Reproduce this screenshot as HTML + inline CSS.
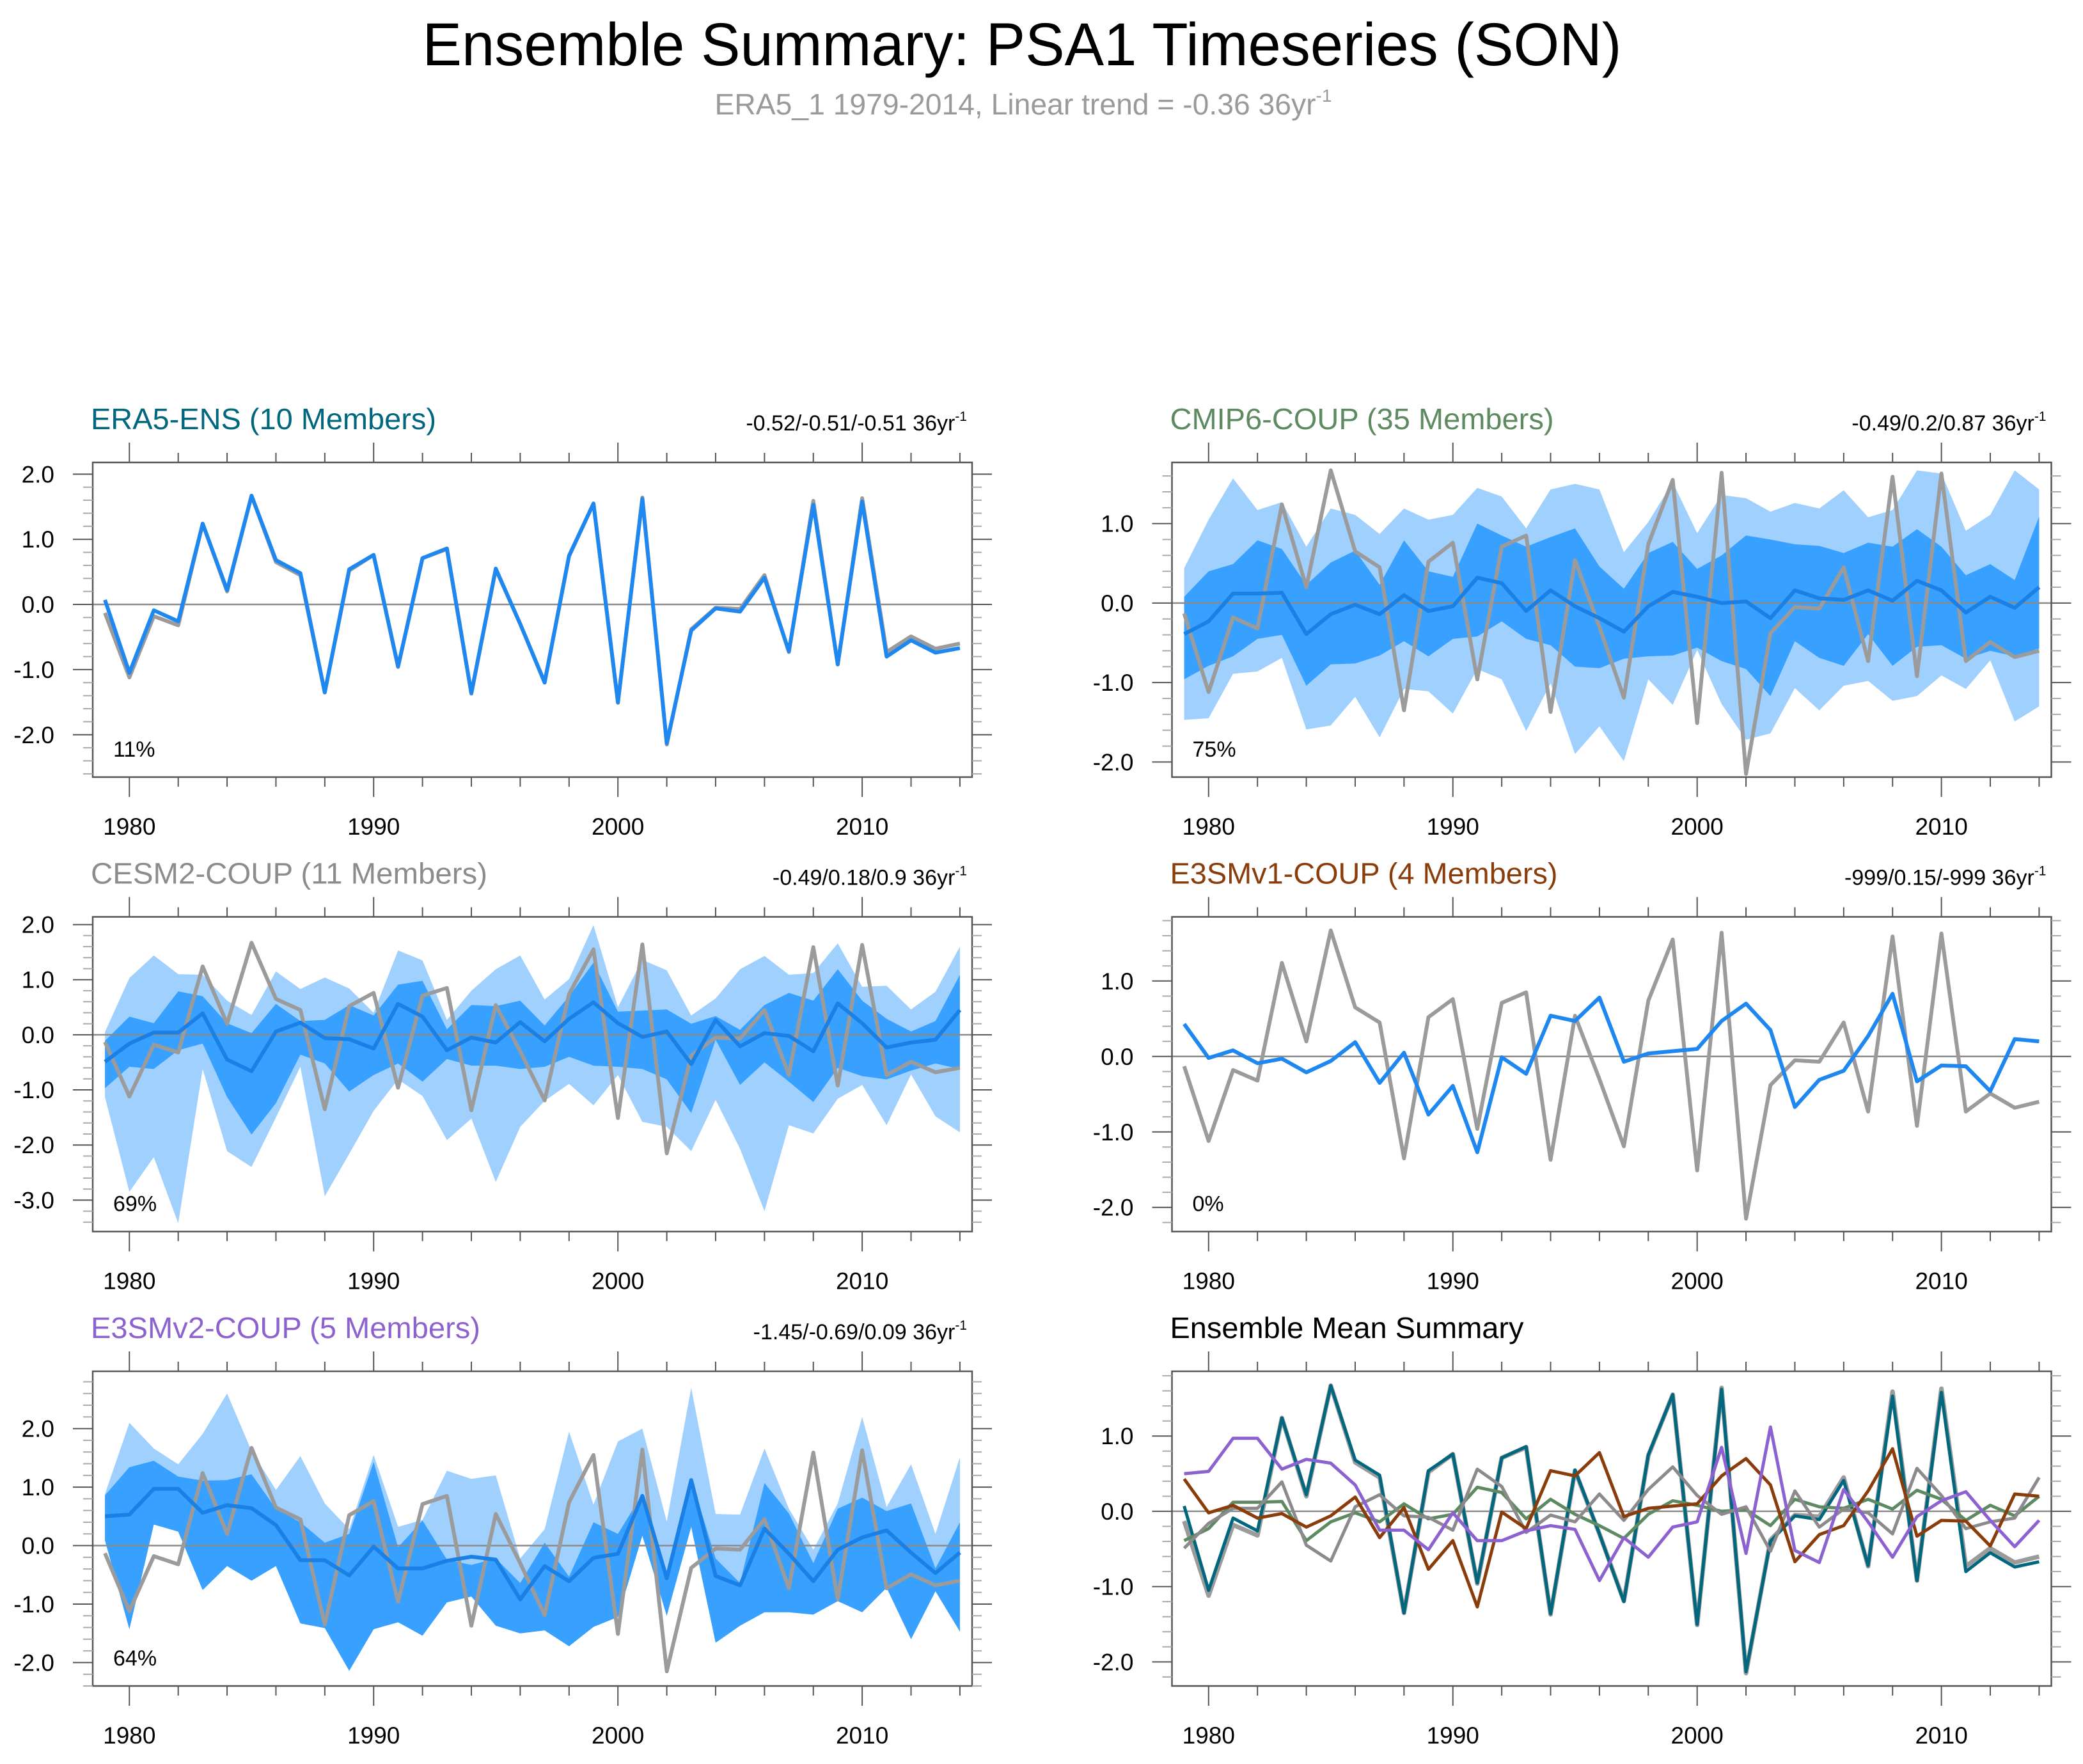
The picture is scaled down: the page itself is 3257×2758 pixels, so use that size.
<!DOCTYPE html>
<html><head><meta charset="utf-8"><title>Ensemble Summary: PSA1 Timeseries (SON)</title>
<style>html,body{margin:0;padding:0;background:#fff}svg{display:block;font-family:"Liberation Sans",sans-serif}</style>
</head><body>
<svg id="chart" xmlns="http://www.w3.org/2000/svg" width="3257" height="2758" viewBox="0 0 3257 2758">
<rect x="0" y="0" width="3257" height="2758" fill="#fff"/>
<text x="1598" y="102" font-size="95" text-anchor="middle" textLength="1875" lengthAdjust="spacingAndGlyphs" fill="#000">Ensemble Summary: PSA1 Timeseries (SON)</text>
<text x="1600" y="179" font-size="46" text-anchor="middle" fill="#9a9a9a"><tspan textLength="940" lengthAdjust="spacingAndGlyphs">ERA5_1 1979-2014, Linear trend = -0.36 36yr</tspan><tspan font-size="28" dy="-20">-1</tspan></text>
</svg>
<script>
const years = [1979,1980,1981,1982,1983,1984,1985,1986,1987,1988,1989,1990,1991,1992,1993,1994,1995,1996,1997,1998,1999,2000,2001,2002,2003,2004,2005,2006,2007,2008,2009,2010,2011,2012,2013,2014];
const obs = [-0.13,-1.12,-0.18,-0.32,1.24,0.20,1.67,0.65,0.45,-1.35,0.52,0.76,-0.96,0.71,0.85,-1.37,0.54,-0.30,-1.19,0.74,1.55,-1.51,1.64,-2.15,-0.38,-0.05,-0.07,0.45,-0.73,1.59,-0.92,1.63,-0.73,-0.49,-0.68,-0.60];
const era5Mean = [0.07,-1.05,-0.09,-0.26,1.24,0.22,1.67,0.68,0.48,-1.35,0.54,0.76,-0.95,0.71,0.86,-1.36,0.55,-0.30,-1.20,0.75,1.55,-1.50,1.62,-2.13,-0.40,-0.06,-0.11,0.41,-0.72,1.53,-0.92,1.58,-0.80,-0.55,-0.74,-0.67];
const cmipMean = [-0.39,-0.23,0.12,0.12,0.13,-0.39,-0.14,-0.02,-0.14,0.10,-0.10,-0.04,0.32,0.25,-0.10,0.16,-0.04,-0.19,-0.36,-0.04,0.14,0.08,0.0,0.02,-0.19,0.16,0.06,0.04,0.16,0.03,0.28,0.16,-0.12,0.08,-0.06,0.20];
const cmipLightTop = [0.44,1.05,1.57,1.17,1.27,0.71,1.19,1.11,0.87,1.19,1.05,1.11,1.45,1.34,0.94,1.43,1.50,1.43,0.64,1.02,1.52,0.88,1.36,1.32,1.15,1.26,1.19,1.42,1.08,1.17,1.67,1.63,0.91,1.11,1.67,1.43];
const cmipDarkTop = [0.08,0.40,0.49,0.79,0.68,0.23,0.51,0.66,0.23,0.79,0.40,0.33,1.00,0.85,0.71,0.83,0.94,0.46,0.18,0.63,0.77,0.43,0.60,0.85,0.80,0.74,0.72,0.63,0.76,0.71,0.93,0.71,0.35,0.49,0.29,1.09];
const cmipDarkBot = [-0.96,-0.79,-0.67,-0.45,-0.40,-1.04,-0.77,-0.76,-0.66,-0.48,-0.67,-0.45,-0.42,-0.23,-0.45,-0.53,-0.80,-0.82,-0.70,-0.67,-0.66,-0.56,-0.73,-0.83,-1.17,-0.48,-0.69,-0.79,-0.39,-0.79,-0.55,-0.53,-0.70,-0.60,-0.67,-0.57];
const cmipLightBot = [-1.47,-1.45,-0.89,-0.86,-0.69,-1.59,-1.54,-1.18,-1.69,-1.08,-1.11,-1.39,-0.83,-0.96,-1.61,-1.01,-1.90,-1.55,-1.99,-0.96,-1.28,-0.59,-1.27,-1.72,-1.64,-1.07,-1.35,-1.04,-0.98,-1.23,-1.17,-0.91,-1.08,-0.72,-1.49,-1.30];
const cesmMean = [-0.49,-0.16,0.04,0.04,0.39,-0.45,-0.66,0.06,0.22,-0.06,-0.08,-0.25,0.56,0.33,-0.28,-0.05,-0.14,0.23,-0.12,0.29,0.59,0.21,-0.04,0.06,-0.53,0.27,-0.21,0.03,-0.02,-0.30,0.57,0.21,-0.23,-0.14,-0.09,0.45];
const cesmLightTop = [0.05,1.03,1.44,1.10,1.09,0.62,0.36,1.15,0.83,1.04,0.84,0.40,1.53,1.35,0.27,0.80,1.19,1.44,0.64,1.01,1.99,0.50,1.36,1.17,0.35,0.66,1.19,1.43,1.09,1.12,1.66,0.87,0.89,0.46,0.78,1.60];
const cesmDarkTop = [-0.11,0.33,0.21,0.79,0.70,0.21,0.03,0.56,0.25,0.27,0.54,0.35,0.91,0.98,0.10,0.54,0.52,0.62,0.17,0.70,1.31,0.42,0.44,0.46,0.20,0.34,0.09,0.54,0.76,0.62,1.19,0.62,0.29,0.06,0.25,1.09];
const cesmDarkBot = [-0.97,-0.58,-0.62,-0.28,-0.16,-1.13,-1.81,-1.24,-0.36,-0.52,-1.03,-0.73,-0.52,-0.85,-0.44,-0.56,-0.56,-0.62,-0.58,-0.40,-0.56,-0.58,-0.62,-0.81,-1.42,-0.09,-0.91,-0.50,-0.85,-1.22,-0.60,-0.75,-0.81,-0.65,-0.52,-0.62];
const cesmLightBot = [-1.13,-2.85,-2.22,-3.42,-0.62,-2.11,-2.40,-1.50,-0.58,-2.93,-2.16,-1.38,-0.81,-1.11,-1.91,-1.52,-2.67,-1.67,-1.20,-0.89,-1.28,-0.73,-1.58,-1.67,-2.11,-1.18,-2.07,-3.20,-1.64,-1.79,-1.16,-0.91,-1.64,-0.72,-1.48,-1.77];
const e3v1Mean = [0.43,-0.02,0.08,-0.09,-0.03,-0.21,-0.06,0.19,-0.35,0.05,-0.77,-0.39,-1.27,-0.01,-0.23,0.54,0.47,0.78,-0.07,0.04,0.07,0.10,0.47,0.70,0.35,-0.67,-0.31,-0.19,0.27,0.83,-0.33,-0.12,-0.13,-0.46,0.23,0.20];
const e3v2Mean = [0.50,0.53,0.97,0.97,0.56,0.69,0.64,0.35,-0.25,-0.25,-0.51,-0.02,-0.39,-0.39,-0.26,-0.19,-0.24,-0.92,-0.35,-0.61,-0.21,-0.14,0.85,-0.56,1.12,-0.52,-0.68,0.29,-0.14,-0.61,-0.07,0.14,0.26,-0.12,-0.47,-0.12];
const e3v2LightTop = [0.88,2.10,1.66,1.39,1.91,2.60,1.62,0.95,1.53,0.72,0.28,1.55,0.32,0.44,1.28,1.14,1.20,-0.22,0.28,1.95,0.70,1.78,2.00,0.41,2.70,0.54,0.53,1.66,0.63,-0.07,0.72,2.20,0.66,1.39,0.20,1.51];
const e3v2DarkTop = [0.86,1.34,1.45,1.18,1.11,1.12,1.22,0.63,0.40,0.05,0.20,1.43,-0.03,0.43,-0.24,-0.33,-0.22,-0.64,0.05,-0.53,0.40,0.20,0.88,-0.53,1.14,-0.22,-0.64,1.07,0.55,-0.30,0.63,0.82,0.59,0.72,-0.39,0.40];
const e3v2DarkBot = [0.09,-1.43,0.36,0.24,-0.76,-0.35,-0.60,-0.35,-1.33,-1.41,-2.14,-1.43,-1.31,-1.54,-0.97,-0.87,-1.37,-1.50,-1.45,-1.72,-1.39,-1.22,0.17,-1.20,0.32,-1.66,-1.37,-1.14,-1.14,-1.18,-0.95,-1.14,-0.72,-1.60,-0.78,-1.47];
const xTickLabels = ["1980","1990","2000","2010"];

const NS = "http://www.w3.org/2000/svg";
const svg = document.getElementById("chart");
function mk(tag, attrs, parent){ const e=document.createElementNS(NS,tag); for(const k in attrs) e.setAttribute(k,attrs[k]); (parent||svg).appendChild(e); return e; }

const LIGHT="#a0d0fe", DARK="#38a0fe", BLUE="#1e88f0", GRAY="#9b9b9b";
const W=1375, H=492, XMIN=1978.5, XMAX=2014.5;

function panel(p){
  const g=mk("g",{});
  
  
  const xs=v=>p.left+(v-XMIN)/(XMAX-XMIN)*W;
  const ys=v=>p.top+(p.ymax-v)/(p.ymax-p.ymin)*H;
  const bottom=p.top+H, right=p.left+W;
  function band(top,bot,color,nm){
    let pts=years.map((yr,i)=>xs(yr)+","+ys(top[i]));
    for(let i=years.length-1;i>=0;i--) pts.push(xs(years[i])+","+ys(bot[i]));
    const e=mk("polygon",{points:pts.join(" "),fill:color},g);
    
    
  }
  if(p.light) band(p.light[0],p.light[1],LIGHT,"spread-band-light");
  if(p.dark) band(p.dark[0],p.dark[1],DARK,"spread-band-dark");
  const z=mk("line",{x1:p.left,x2:right,y1:ys(0),y2:ys(0),stroke:"#8a8a8a","stroke-width":2.5},g);
  
  
  p.lines.forEach(L=>{
    const d=years.map((yr,i)=>(i?"L":"M")+xs(yr).toFixed(1)+","+ys(L.data[i]).toFixed(1)).join("");
    const e=mk("path",{d:d,fill:"none",stroke:L.color,"stroke-width":L.w||6,"stroke-linejoin":"round"},g);
    
    
  });
  const b=mk("rect",{x:p.left,y:p.top,width:W,height:H,fill:"none",stroke:"#555","stroke-width":2.5},g);
  
  
  for(let yr=1980;yr<=2014;yr+=2){
    const major=(yr%10===0), len=major?31:15, x=xs(yr);
    mk("line",{x1:x,x2:x,y1:p.top,y2:p.top-len,stroke:"#555","stroke-width":2},g);
    mk("line",{x1:x,x2:x,y1:bottom,y2:bottom+len,stroke:"#555","stroke-width":2},g);
  }
  xTickLabels.forEach(lbl=>{
    const t=mk("text",{x:xs(+lbl),y:bottom+90,"font-size":37,"text-anchor":"middle",fill:"#000"},g);
    t.textContent=lbl;
    
    
  });
  for(let k=Math.ceil(p.ymin*5);k<=Math.floor(p.ymax*5);k++){
    const v=k/5, major=(k%5===0), len=major?31:15, y=ys(v);
    mk("line",{x1:p.left,x2:p.left-len,y1:y,y2:y,stroke:major?"#555":"#aaa","stroke-width":2},g);
    mk("line",{x1:right,x2:right+len,y1:y,y2:y,stroke:major?"#555":"#aaa","stroke-width":2},g);
    if(major){
      const t=mk("text",{x:p.left-60,y:y+13,"font-size":37,"text-anchor":"end",fill:"#000"},g);
      t.textContent=v.toFixed(1);
      
      
    }
  }
  const tt=mk("text",{x:p.left-3,y:p.top-52,"font-size":46,fill:p.tcolor,textLength:p.tw,lengthAdjust:"spacingAndGlyphs"},g);
  tt.textContent=p.title;
  
  
  if(p.trend){
    const tr=mk("text",{x:right-8,y:p.top-50,"font-size":34,"text-anchor":"end",fill:"#000"},g);
    const s1=mk("tspan",{},tr); s1.textContent=p.trend+" 36yr";
    const s2=mk("tspan",{"font-size":21,dy:-15},tr); s2.textContent="-1";
    
    
  }
  if(p.pct){
    const pc=mk("text",{x:p.left+32,y:bottom-32,"font-size":34,fill:"#000"},g);
    pc.textContent=p.pct;
    
    
  }
}

const L0=145, L1=1832.5, T0=723, T1=1433.5, T2=2144;
panel({name:"panel-era5-ens",left:L0,top:T0,ymin:-2.65,ymax:2.18,title:"ERA5-ENS (10 Members)",tw:540,tcolor:"#00677f",trend:"-0.52/-0.51/-0.51",pct:"11%",
  lines:[{data:obs,color:GRAY,name:"obs-line"},{data:era5Mean,color:BLUE,name:"ensemble-mean-line"}]});
panel({name:"panel-cmip6-coup",left:L1,top:T0,ymin:-2.19,ymax:1.77,title:"CMIP6-COUP (35 Members)",tw:600,tcolor:"#5d8a60",trend:"-0.49/0.2/0.87",pct:"75%",
  light:[cmipLightTop,cmipLightBot],dark:[cmipDarkTop,cmipDarkBot],
  lines:[{data:obs,color:GRAY,name:"obs-line"},{data:cmipMean,color:"#1a80e6",name:"ensemble-mean-line"}]});
panel({name:"panel-cesm2-coup",left:L0,top:T1,ymin:-3.57,ymax:2.14,title:"CESM2-COUP (11 Members)",tw:620,tcolor:"#8c8c8c",trend:"-0.49/0.18/0.9",pct:"69%",
  light:[cesmLightTop,cesmLightBot],dark:[cesmDarkTop,cesmDarkBot],
  lines:[{data:obs,color:GRAY,name:"obs-line"},{data:cesmMean,color:"#1a80e6",name:"ensemble-mean-line"}]});
panel({name:"panel-e3smv1-coup",left:L1,top:T1,ymin:-2.32,ymax:1.85,title:"E3SMv1-COUP (4 Members)",tw:606,tcolor:"#8a3c0a",trend:"-999/0.15/-999",pct:"0%",
  lines:[{data:obs,color:GRAY,name:"obs-line"},{data:e3v1Mean,color:BLUE,name:"ensemble-mean-line"}]});
panel({name:"panel-e3smv2-coup",left:L0,top:T2,ymin:-2.40,ymax:2.98,title:"E3SMv2-COUP (5 Members)",tw:609,tcolor:"#8c62d0",trend:"-1.45/-0.69/0.09",pct:"64%",
  light:[e3v2LightTop,e3v2DarkBot],dark:[e3v2DarkTop,e3v2DarkBot],
  lines:[{data:obs,color:GRAY,name:"obs-line"},{data:e3v2Mean,color:"#1a80e6",name:"ensemble-mean-line"}]});
panel({name:"panel-ensemble-mean-summary",left:L1,top:T2,ymin:-2.32,ymax:1.86,title:"Ensemble Mean Summary",tw:553,tcolor:"#000",
  lines:[{data:obs,color:GRAY,name:"obs-line",w:7},{data:era5Mean,color:"#00677f",name:"era5-mean-line",w:5},
         {data:cmipMean,color:"#5d8a60",name:"cmip6-mean-line",w:5},{data:cesmMean,color:"#8c8a8c",name:"cesm2-mean-line",w:5},
         {data:e3v1Mean,color:"#8a3c0a",name:"e3smv1-mean-line",w:5},{data:e3v2Mean,color:"#8c62d0",name:"e3smv2-mean-line",w:5}]});
</script>
</body></html>
